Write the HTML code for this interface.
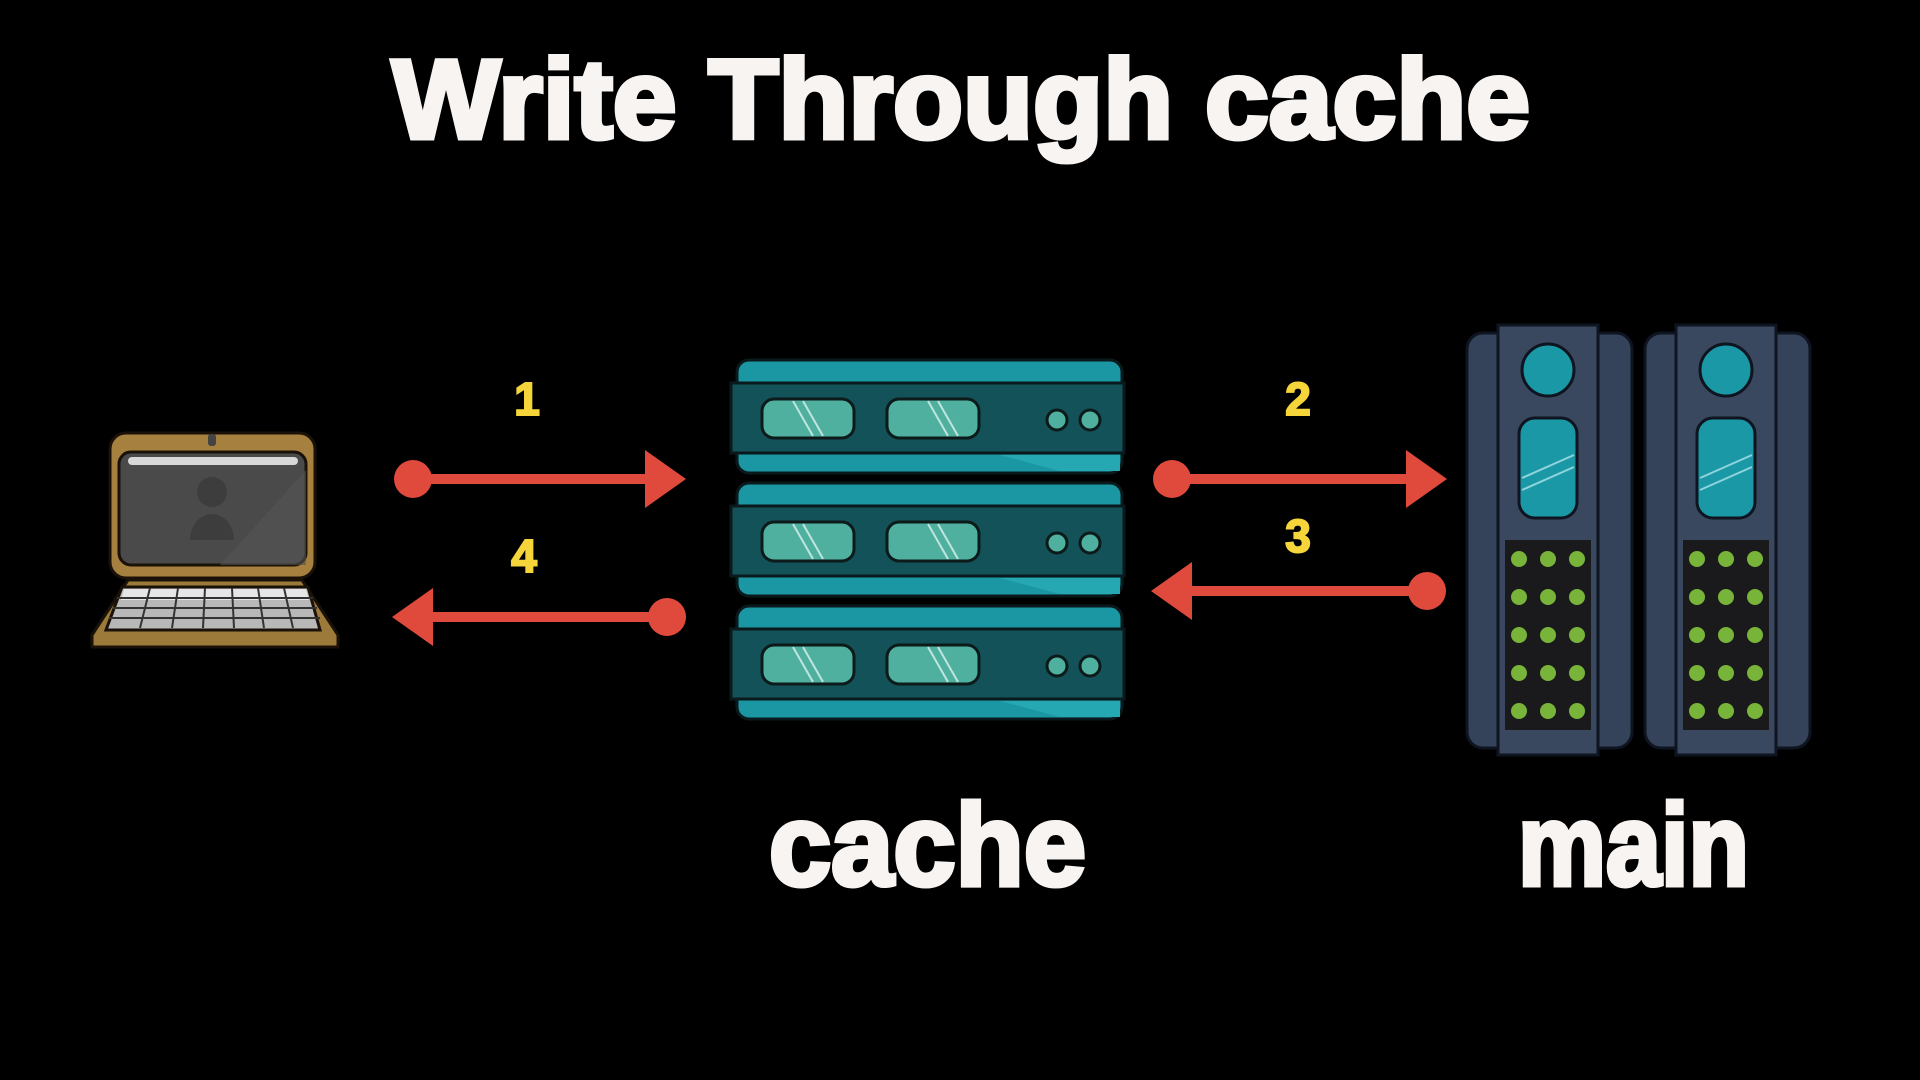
<!DOCTYPE html>
<html><head><meta charset="utf-8"><style>html,body{margin:0;padding:0;background:#000;}svg{display:block}</style></head>
<body>
<svg width="1920" height="1080" viewBox="0 0 1920 1080" xmlns="http://www.w3.org/2000/svg">
<rect width="1920" height="1080" fill="#000"/>
<g font-family="Liberation Sans, sans-serif" font-weight="bold" fill="#f7f4f2" stroke="#f7f4f2" stroke-width="5" stroke-linejoin="miter">
<text x="392" y="138" font-size="112" textLength="1138" lengthAdjust="spacingAndGlyphs">Write Through cache</text>
<text x="769" y="885" font-size="116" textLength="317" lengthAdjust="spacingAndGlyphs">cache</text>
<text x="1518" y="885" font-size="116" textLength="231" lengthAdjust="spacingAndGlyphs">main</text>
</g>
<g font-family="Liberation Sans, sans-serif" font-weight="bold" fill="#f5d53a" stroke="#f5d53a" stroke-width="2" font-size="46" text-anchor="middle">
<text x="527" y="415">1</text>
<text x="524" y="572">4</text>
<text x="1298" y="415">2</text>
<text x="1298" y="552">3</text>
</g>
<g fill="#e04a3c" stroke="none">
<rect x="413" y="474" width="240" height="10"/><circle cx="413" cy="479" r="19"/><polygon points="645,450 686,479 645,508"/>
<rect x="430" y="612" width="237" height="10"/><circle cx="667" cy="617" r="19"/><polygon points="433,588 392,617 433,646"/>
<rect x="1172" y="474" width="240" height="10"/><circle cx="1172" cy="479" r="19"/><polygon points="1406,450 1447,479 1406,508"/>
<rect x="1190" y="586" width="237" height="10"/><circle cx="1427" cy="591" r="19"/><polygon points="1192,562 1151,591 1192,620"/>
</g>
<g stroke="#1a1208" stroke-width="3">
<polygon points="128,580 302,580 338,635 338,647 92,647 92,635" fill="#9c7a3a"/>
<rect x="110" y="433" width="205" height="145" rx="16" fill="#a6803e"/>
<rect x="119" y="452" width="187" height="113" rx="12" fill="#4a4a4a"/>
<polygon points="122,587 308,587 320,630 106,630" fill="#b8b8b8"/>
</g>
<polygon points="124,589 306,589 309,600 121,600" fill="#e6e6e6"/>
<polygon points="220,565 306,470 306,565" fill="#555" opacity="0.6"/>
<rect x="128" y="457" width="170" height="8" rx="4" fill="#d8d8d8"/>
<rect x="208" y="434" width="8" height="12" rx="3" fill="#444"/>
<circle cx="212" cy="492" r="15" fill="#3d3d3d"/>
<path d="M190 540 a22 26 0 0 1 44 0 z" fill="#3d3d3d"/>
<g stroke="#333" stroke-width="2">
<line x1="117" y1="598" x2="313" y2="598"/><line x1="113" y1="608" x2="317" y2="608"/><line x1="109" y1="618" x2="320" y2="618"/>
<line x1="150" y1="588" x2="140" y2="628"/><line x1="178" y1="588" x2="172" y2="628"/><line x1="205" y1="588" x2="203" y2="628"/><line x1="232" y1="588" x2="234" y2="628"/><line x1="258" y1="588" x2="264" y2="628"/><line x1="284" y1="588" x2="293" y2="628"/>
</g>
<g id="u">
<rect x="737" y="360" width="385" height="113" rx="12" fill="#1b97a3" stroke="#0a1a1c" stroke-width="3"/>
<polygon points="1000,455 1120,455 1120,471 1060,471" fill="#26a8b2"/>
<rect x="731" y="383" width="393" height="70" fill="#14525a" stroke="#0a1a1c" stroke-width="3"/>
<rect x="762" y="399" width="92" height="39" rx="12" fill="#4fb0a0" stroke="#0d1a1a" stroke-width="3"/>
<rect x="887" y="399" width="92" height="39" rx="12" fill="#4fb0a0" stroke="#0d1a1a" stroke-width="3"/>
<g stroke="#bfe6de" stroke-width="2"><line x1="793" y1="401" x2="813" y2="436"/><line x1="803" y1="401" x2="823" y2="436"/><line x1="928" y1="401" x2="948" y2="436"/><line x1="938" y1="401" x2="958" y2="436"/></g>
<circle cx="1057" cy="420" r="10" fill="#4fb0a0" stroke="#0d1a1a" stroke-width="3"/>
<circle cx="1090" cy="420" r="10" fill="#4fb0a0" stroke="#0d1a1a" stroke-width="3"/>
</g>
<use href="#u" y="123"/>
<use href="#u" y="246"/>
<g id="r">
<rect x="1467" y="333" width="165" height="415" rx="16" fill="#34435a" stroke="#0e1420" stroke-width="3"/>
<rect x="1498" y="325" width="100" height="430" fill="#39485e" stroke="#0e1420" stroke-width="3"/>
<circle cx="1548" cy="370" r="26" fill="#1a98a6" stroke="#0e1420" stroke-width="3"/>
<rect x="1519" y="418" width="58" height="100" rx="16" fill="#1a98a6" stroke="#0e1420" stroke-width="3"/>
<g stroke="#8fd4dc" stroke-width="2"><line x1="1522" y1="478" x2="1574" y2="455"/><line x1="1522" y1="490" x2="1574" y2="467"/></g>
<rect x="1505" y="540" width="86" height="190" fill="#1a1a1c"/>
<g fill="#78b43a">
<circle cx="1519" cy="559" r="8"/><circle cx="1548" cy="559" r="8"/><circle cx="1577" cy="559" r="8"/>
<circle cx="1519" cy="597" r="8"/><circle cx="1548" cy="597" r="8"/><circle cx="1577" cy="597" r="8"/>
<circle cx="1519" cy="635" r="8"/><circle cx="1548" cy="635" r="8"/><circle cx="1577" cy="635" r="8"/>
<circle cx="1519" cy="673" r="8"/><circle cx="1548" cy="673" r="8"/><circle cx="1577" cy="673" r="8"/>
<circle cx="1519" cy="711" r="8"/><circle cx="1548" cy="711" r="8"/><circle cx="1577" cy="711" r="8"/>
</g>
</g>
<use href="#r" x="178"/>
</svg>
</body></html>
